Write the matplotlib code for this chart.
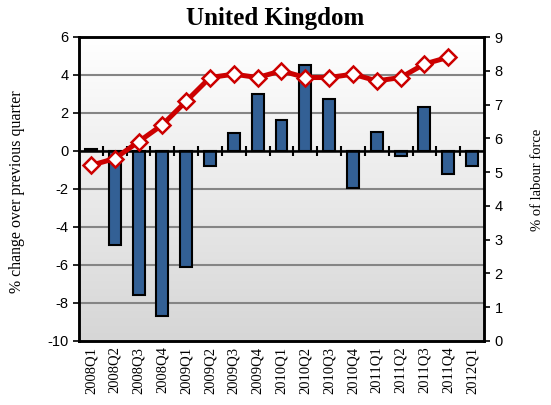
import matplotlib
matplotlib.use("Agg")
import matplotlib.pyplot as plt
import numpy as np
from matplotlib.colors import LinearSegmentedColormap

quarters = ["2008Q1", "2008Q2", "2008Q3", "2008Q4", "2009Q1", "2009Q2", "2009Q3",
            "2009Q4", "2010Q1", "2010Q2", "2010Q3", "2010Q4", "2011Q1", "2011Q2",
            "2011Q3", "2011Q4", "2012Q1"]
pct_change = [0.1, -4.95, -7.6, -8.7, -6.1, -0.8, 0.93, 3.0, 1.65, 4.55, 2.75,
              -1.97, 1.0, -0.25, 2.3, -1.2, -0.8]
unemployment = [5.2, 5.4, 5.9, 6.4, 7.1, 7.8, 7.9, 7.8, 8.0, 7.8, 7.8, 7.9,
                7.7, 7.8, 8.2, 8.4]
left_ticks = [-10, -8, -6, -4, -2, 0, 2, 4, 6]
right_ticks = [0, 1, 2, 3, 4, 5, 6, 7, 8, 9]

fig = plt.figure(figsize=(5.51, 4.05), dpi=100)
ax = fig.add_axes([79/551, 1-341/405, 405/551, 304/405])
x = np.arange(len(quarters))

# gradient background
grad = np.linspace(0, 1, 256).reshape(-1, 1)
cmap = LinearSegmentedColormap.from_list("g", ["#d6d6d6", "#ffffff"])
ax.imshow(grad, aspect="auto", cmap=cmap, origin="lower",
          extent=[-0.5, len(quarters)-0.5, -10, 6], zorder=0)

ax.set_xlim(-0.5, len(quarters)-0.5)
ax.set_ylim(-10, 6)
ax.set_yticks(left_ticks)
ax.set_yticklabels([str(t) for t in left_ticks], fontsize=10.5, family="Liberation Sans")
for t in left_ticks[1:-1]:
    ax.axhline(t, color="#858585", lw=1.5, zorder=1)

ax.bar(x, pct_change, width=0.5, color="#336095", edgecolor="black", lw=1.5, zorder=3)
ax.axhline(0, color="black", lw=1.8, zorder=4)
ax.vlines(x[:-1] + 0.5, -0.25, 0.25, color="black", lw=1.5, zorder=4)

ax.set_xticks(x)
ax.set_xticklabels(quarters, rotation=90, fontsize=10.5, family="Liberation Serif")
ax.tick_params(axis="x", length=0, pad=4)
ax.tick_params(axis="y", length=4, width=1.2, direction="out")
for s in ax.spines.values():
    s.set_linewidth(1.8)
ax.set_ylabel("% change over previous quarter", fontsize=11.4, family="Liberation Serif")
ax.yaxis.label.set_va("center")
ax.yaxis.set_label_coords(-62/405, 0.493)

ax2 = ax.twinx()
ax2.set_ylim(0, 9)
ax2.set_yticks(right_ticks)
ax2.set_yticklabels([str(t) for t in right_ticks], fontsize=10.5, family="Liberation Sans")
ax2.tick_params(axis="y", length=4, width=1.2, direction="out")
ax2.plot(x[:len(unemployment)], unemployment, color="#cc0000", lw=3.6, marker="D",
         markersize=8, markerfacecolor="white", markeredgecolor="#cc0000",
         markeredgewidth=1.8, zorder=5)
for s in ax2.spines.values():
    s.set_linewidth(1.8)
ax2.set_ylabel("% of labour force", fontsize=10.5, family="Liberation Serif")
ax2.yaxis.label.set_va("center")
ax2.yaxis.set_label_coords((538-79)/405, 0.53)

fig.text(0.5, 1 - 19/405, "United Kingdom", fontsize=18, fontweight="bold",
         family="Liberation Serif", ha="center", va="center")
fig.savefig("out.png", dpi=100)
